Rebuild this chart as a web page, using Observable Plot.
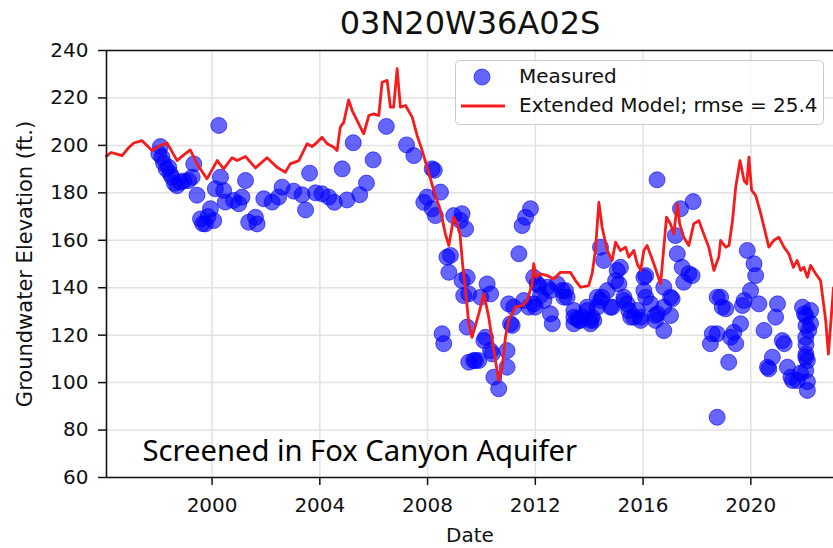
<!DOCTYPE html>
<html><head><meta charset="utf-8">
<script src="https://cdn.jsdelivr.net/npm/d3@7"></script>
<script src="https://cdn.jsdelivr.net/npm/@observablehq/plot@0.6"></script>
<style>
body{margin:0;background:#fff;}
#wrap{position:relative;width:833px;height:548px;overflow:hidden;}
#legend{position:absolute;left:455px;top:60px;}
</style></head>
<body><div id="wrap"></div>
<script>
const title = "03N20W36A02S";
const yLabel = "Groundwater Elevation (ft.)";
const xLabel = "Date";
const note = "Screened in Fox Canyon Aquifer";
const seriesNames = ["Measured", "Extended Model; rmse = 25.4"];
const xDomain = [1996.08, 2023.07];
const yDomain = [60, 240];
const xTicks = [2000, 2004, 2008, 2012, 2016, 2020];
const yTicks = [60, 80, 100, 120, 140, 160, 180, 200, 220, 240];

// Extended model (decimal year, ft)
const modelYear = [1996.08,1996.25,1996.41,1996.66,1996.9,1997.09,1997.4,1997.77,1998.08,1998.33,1998.7,1998.95,1999.19,1999.44,1999.81,2000.19,2000.43,2000.74,2000.93,2001.24,2001.61,2002.04,2002.41,2002.72,2002.9,2003.22,2003.53,2003.71,2003.9,2004.08,2004.27,2004.52,2004.64,2004.76,2004.89,2005.07,2005.2,2005.32,2005.63,2005.82,2006.0,2006.19,2006.31,2006.5,2006.62,2006.74,2006.87,2006.99,2007.18,2007.43,2007.61,2007.8,2007.98,2008.23,2008.48,2008.66,2008.79,2008.97,2009.1,2009.2,2009.3,2009.41,2009.53,2009.65,2009.9,2010.09,2010.27,2010.46,2010.64,2010.77,2010.89,2011.01,2011.26,2011.51,2011.7,2011.88,2011.94,2012.04,2012.19,2012.44,2012.69,2012.93,2013.3,2013.49,2013.68,2013.98,2014.11,2014.23,2014.36,2014.48,2014.67,2014.85,2014.98,2015.16,2015.35,2015.47,2015.66,2015.78,2015.91,2016.03,2016.15,2016.4,2016.65,2016.87,2017.02,2017.14,2017.27,2017.36,2017.51,2017.7,2017.88,2018.07,2018.25,2018.44,2018.63,2018.81,2018.88,2019.07,2019.19,2019.32,2019.44,2019.6,2019.75,2019.85,2019.93,2020.03,2020.18,2020.37,2020.67,2020.85,2021.04,2021.23,2021.41,2021.58,2021.72,2021.85,2021.97,2022.1,2022.22,2022.41,2022.59,2022.78,2022.88,2023.07];
const modelValue = [195.5,197,196.5,195.7,199,201,202,197.8,200,201,193.6,196,198.1,192.2,185.9,193.6,190.1,194.8,193.6,195.3,190.5,194.8,190.8,188.7,192.2,193.6,200.7,199.5,201.3,203.4,200.7,199.2,197.8,207.7,209.8,219.2,214.7,211.9,204.9,212.6,213.3,212.6,226.6,227.4,216.1,216.1,232.3,216.1,216.8,211.9,204.2,197.8,190.8,181,172.5,162.7,157.8,169.7,166.9,163,150,139,124.8,119.1,129,137.4,127.6,113.5,100.9,106.5,119.1,126.2,131.8,132.5,134.6,141.6,150.1,144.4,145.9,145.1,143.7,146.5,146.5,143,140.2,140.9,145.9,155.7,176,165.5,155.7,151.5,159.2,155.7,157.1,152.9,155.7,150.1,147.3,155.7,157.8,150.1,141.6,169.7,166.9,162.7,175.4,166.9,161.3,157.8,166.9,168.3,162.7,157.1,147.3,152.9,159.9,157.1,157.8,168.3,182.4,193.6,185.2,183.8,195,181,178.9,171.2,157.1,159.9,161.3,157.1,154.3,148.6,151.5,147.3,148.6,144.4,149.4,145.9,143,126.2,112,140];

// Measured: [decimal year, ft]
const measuredPairs = [
  [1998.08,199.5],[1998.02,196.5],[1998.14,195],[1998.2,192.5],[1998.3,190],[1998.39,190.8],[1998.45,188],[1998.51,186.6],[1998.6,184],[1998.7,183],[1998.82,184.5],[1998.95,185],[1999.13,185.2],[1999.26,186.6],[1999.32,192.2],[1999.44,179],[1999.57,169],[1999.65,167],[1999.75,166.9],[1999.85,170],[1999.94,173.3],[2000.06,168.3],[2000.12,181.7],[2000.25,208.4],[2000.31,186.6],[2000.43,181],[2000.49,176.1],[2000.8,176.8],[2000.99,175.4],[2001.11,178.2],[2001.24,185.2],[2001.36,167.6],[2001.61,169.7],[2001.67,166.9],[2001.92,177.5],[2002.23,176.1],[2002.47,178.2],[2002.6,182.4],
  [2003.03,180.7],[2003.34,179.2],[2003.47,172.8],[2003.62,188.3],[2003.84,180],[2004.08,179.6],[2004.33,178.2],[2004.54,176],[2004.83,190.1],[2005.01,177],[2005.24,201.1],[2005.48,179.2],[2005.73,184.1],[2005.98,193.9],[2006.47,208],[2007.22,200.2],[2007.49,195.7],[2007.86,176],[2007.98,178.2],[2008.17,173.3],[2008.17,190.1],[2008.25,189.5],[2008.29,170.4],[2008.48,180.3],[2008.54,120.6],[2008.6,116.4],[2008.72,152.9],[2008.85,153.6],[2008.79,146.5],[2008.97,170.4],
  [2009.22,168.3],[2009.28,171.2],[2009.41,164.8],[2009.28,143],[2009.34,136.7],[2009.47,144.4],[2009.53,137.4],[2009.47,123.4],[2009.53,108.6],[2009.71,109.3],[2009.78,109.3],[2009.9,109.3],[2009.97,136],[2010.09,117.7],[2010.15,119.1],[2010.21,141.6],[2010.34,137.4],[2010.34,113.5],[2010.4,112.1],[2010.46,102.3],[2010.64,97.4],[2010.95,113.5],[2010.95,106.5],[2011.01,133.2],[2011.08,124.8],[2011.14,124.1],[2011.2,131.8],[2011.39,154.3],[2011.51,166.2],[2011.57,134.6],[2011.64,169.7],[2011.76,131.8],[2011.82,173.3],[2011.94,144.4],[2011.94,133.2],
  [2012.0,131.8],[2012.07,141.6],[2012.13,140.9],[2012.19,136.7],[2012.32,134.6],[2012.44,140.2],[2012.56,138.8],[2012.56,129],[2012.63,124.8],[2012.81,141.6],[2013.0,138.8],[2013.06,136],[2013.12,138.8],[2013.18,136],[2013.43,130.4],[2013.43,127.6],[2013.43,124.8],[2013.55,126.9],[2013.62,126.2],[2013.68,126.2],[2013.74,127.6],[2013.92,131.8],[2013.93,130.4],[2014.05,126.2],[2014.05,124.8],[2014.11,127.6],[2014.17,126.2],[2014.3,136],[2014.3,131.8],[2014.42,157.1],[2014.42,134.6],[2014.48,136],[2014.54,151.5],[2014.67,138.8],[2014.79,131.8],[2014.85,131.8],[2014.98,143],[2015.04,147.3],[2015.1,141.6],[2015.16,148.6],[2015.29,136],[2015.29,134.6],[2015.41,133.2],[2015.47,130.4],[2015.54,127.6],[2015.66,127.6],[2015.78,130.4],[2015.91,126.2],[2015.91,127.6],
  [2016.03,144.4],[2016.03,138.8],[2016.1,145.1],[2016.1,136],[2016.28,133.2],[2016.46,126.2],[2016.46,128.3],[2016.52,185.5],[2016.53,129],[2016.77,121.9],[2016.77,140.2],[2016.77,131.8],[2017.02,128.3],[2017.02,136],[2017.08,135.3],[2017.2,162],[2017.27,154.3],[2017.39,173.3],[2017.45,148.6],[2017.51,142.3],[2017.7,145.9],[2017.82,145.1],[2017.86,176.3],
  [2018.5,116.4],[2018.57,120.6],[2018.75,120.6],[2018.75,136],[2018.75,85.4],[2018.88,136],[2018.94,131.8],[2019.07,131.1],[2019.18,108.6],[2019.25,119.1],[2019.37,121.2],[2019.44,116.4],[2019.62,124.8],[2019.69,132.5],[2019.75,134.6],[2019.87,155.7],[2019.99,138.8],[2020.12,150.1],[2020.18,145.1],[2020.3,133.2],[2020.49,122],[2020.62,106.5],[2020.67,105.8],[2020.8,110.7],[2020.92,127.6],[2020.99,133.2],[2021.17,117.7],[2021.24,116.4],[2021.36,106.5],[2021.49,102.3],[2021.55,100.9],[2021.73,100.9],[2021.85,104],[2021.92,131.8],[2021.99,129],[2022.04,119.1],[2022.04,110.7],[2022.04,105.1],[2022.05,128],[2022.05,124],[2022.05,116],[2022.05,112],[2022.1,109.3],[2022.1,96.7],[2022.1,100.4],[2022.15,122],[2022.22,125],[2022.22,130.4]
];

const model = modelYear.map((x, i) => ({x, y: modelValue[i]}));
const measured = measuredPairs.map(([x, y]) => ({x, y}));

const font = "'DejaVu Sans', sans-serif";
const lineColor = "#f41c1c";
const plot = Plot.plot({
  width: 833, height: 548,
  marginLeft: 106, marginRight: 0, marginTop: 50, marginBottom: 71,
  style: {fontFamily: font, fontSize: "20px", color: "#111", background: "white", overflow: "visible"},
  x: {domain: xDomain},
  y: {domain: yDomain},
  marks: [
    Plot.gridX(xTicks, {stroke: "#e2e2e2", strokeOpacity: 1, strokeWidth: 1.5}),
    Plot.gridY(yTicks, {stroke: "#e2e2e2", strokeOpacity: 1, strokeWidth: 1.5}),
    Plot.dot(measured, {x: "x", y: "y", r: 8, fill: "blue", fillOpacity: 0.6, stroke: "blue", strokeOpacity: 0.6, strokeWidth: 1}),
    Plot.line(model, {x: "x", y: "y", stroke: lineColor, strokeWidth: 2.8}),
    Plot.ruleY([yDomain[0], yDomain[1]], {stroke: "#111", strokeWidth: 1.6}),
    Plot.ruleX([xDomain[0]], {stroke: "#111", strokeWidth: 1.6}),
    Plot.axisX(xTicks, {tickFormat: d => String(d), tickSize: 8, tickPadding: 12, strokeWidth: 1.5, label: null, fontSize: 20}),
    Plot.axisY(yTicks, {tickSize: 8, tickPadding: 10, strokeWidth: 1.5, label: null, fontSize: 20}),
    Plot.text([xLabel], {text: d => d, frameAnchor: "bottom", lineAnchor: "middle", dy: 58, fontSize: 20}),
    Plot.text([yLabel], {text: d => d, frameAnchor: "left", textAnchor: "middle", lineAnchor: "middle", rotate: -90, dx: -81, fontSize: 21}),
    Plot.text([title], {text: d => d, frameAnchor: "top", lineAnchor: "middle", dy: -27, fontSize: 32}),
    Plot.text([note], {text: d => d, frameAnchor: "bottom-left", textAnchor: "start", lineAnchor: "middle", dx: 36, dy: -26, fontSize: 29.2, fontFamily: "'Noto Sans', sans-serif", fill: "#000"})
  ]
});
const wrap = document.getElementById("wrap");
wrap.appendChild(plot);

// Legend
const lg = d3.select(wrap).append("svg").attr("id", "legend").attr("width", 370).attr("height", 66)
  .style("font-family", font).style("font-size", "20px");
lg.append("rect").attr("x", 0.5).attr("y", 0.5).attr("width", 368).attr("height", 64).attr("rx", 4)
  .attr("fill", "white").attr("fill-opacity", 0.85).attr("stroke", "#cccccc");
lg.append("circle").attr("cx", 27).attr("cy", 17).attr("r", 8)
  .attr("fill", "blue").attr("fill-opacity", 0.6).attr("stroke", "blue").attr("stroke-opacity", 0.6);
lg.append("line").attr("x1", 6).attr("x2", 50).attr("y1", 46).attr("y2", 46)
  .attr("stroke", lineColor).attr("stroke-width", 2.8);
lg.append("text").attr("x", 64).attr("y", 23).attr("fill", "#111").text(seriesNames[0]);
lg.append("text").attr("x", 64).attr("y", 52).attr("fill", "#111").text(seriesNames[1]);
</script>
</body></html>
